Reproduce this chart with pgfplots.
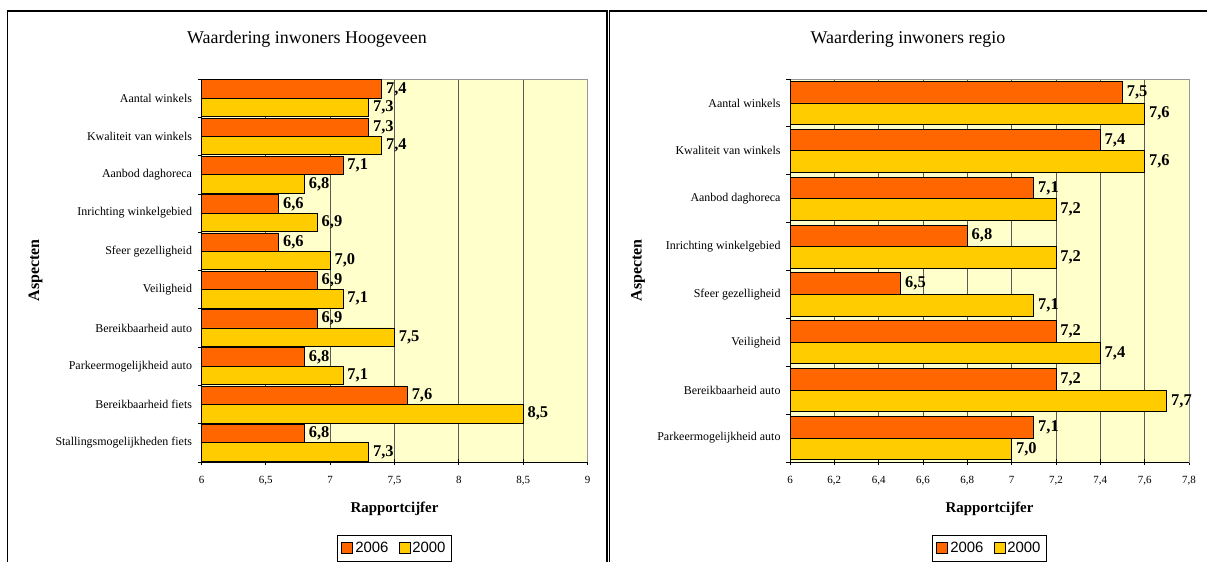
\documentclass[border=0pt]{standalone}
\usepackage{pgfplots}
\usepackage{pgfplotstable}
\pgfplotsset{compat=1.18}
\usepackage{fontspec}
\setmainfont{Liberation Serif}
\newfontfamily\legendfont{Liberation Sans}

\definecolor{bar2006}{RGB}{255,102,0}
\definecolor{bar2000}{RGB}{255,204,0}
\definecolor{plotbg}{RGB}{255,255,204}
\definecolor{gridgray}{RGB}{90,90,90}
\definecolor{edgegray}{RGB}{150,150,150}

% Rapportcijfers per aspect: 2006 and 2000
\pgfplotstableread{
idx v2006 v2000
0 7.4 7.3
1 7.3 7.4
2 7.1 6.8
3 6.6 6.9
4 6.6 7.0
5 6.9 7.1
6 6.9 7.5
7 6.8 7.1
8 7.6 8.5
9 6.8 7.3
}\hoogeveen

\pgfplotstableread{
idx v2006 v2000
0 7.5 7.6
1 7.4 7.6
2 7.1 7.2
3 6.8 7.2
4 6.5 7.1
5 7.2 7.4
6 7.2 7.7
7 7.1 7.0
}\regio

\pgfplotsset{
  rating/.style={
    xbar, scale only axis, clip mode=individual,
    y dir=reverse,
    axis background/.style={fill=plotbg},
    axis line style={edgegray, line width=1bp},
    xmajorgrids, grid style={draw=gridgray, line width=1bp},
    xtick pos=left, ytick pos=left,
    xtick align=center, ytick align=outside,
    major tick length=6bp, minor tick length=4bp,
    tick style={black, line width=0.8bp},
    major y tick style={draw=none},
    point meta=x,
    /pgf/number format/assume math mode=true,
    /pgf/number format/use comma,
    nodes near coords={\pgfmathprintnumber[fixed,fixed zerofill,precision=1,use comma]{\pgfplotspointmeta}},
    nodes near coords style={anchor=west, font=\fontsize{16.5}{18}\selectfont\bfseries, inner sep=0pt, xshift=4bp},
    x tick label style={font=\fontsize{11}{12}\selectfont, yshift=-8bp},
    y tick label style={font=\fontsize{12}{14}\selectfont},
    xlabel={Rapportcijfer}, ylabel={Aspecten},
    xlabel style={font=\fontsize{15}{17}\selectfont\bfseries, at={(axis description cs:0.5,-0.122)}, anchor=center},
    title style={font=\fontsize{18}{20}\selectfont, anchor=center},
    legend style={legend columns=2, draw=black, line width=0.8bp,
      font=\legendfont\fontsize{15}{17}\selectfont,
      inner xsep=4bp, inner ysep=5bp,
      at={(axis description cs:0.5,-0.1906)}, anchor=north,
      /tikz/every even column/.append style={column sep=8bp}},
    legend image code/.code={\draw[#1, draw=black, line width=0.8bp] (0bp,-5.5bp) rectangle (11bp,5.5bp);},
    yticklabels={Aantal winkels, Kwaliteit van winkels, Aanbod daghoreca,
      Inrichting winkelgebied, Sfeer gezelligheid, Veiligheid,
      Bereikbaarheid auto, Parkeermogelijkheid auto, Bereikbaarheid fiets,
      Stallingsmogelijkheden fiets},
  }
}

\begin{document}
\begin{tikzpicture}
\useasboundingbox (0bp,0bp) rectangle (1207bp,562bp);

% Hoogeveen
\begin{axis}[rating,
  at={(394.5bp,291.5bp)}, anchor=center, width=386bp, height=383bp,
  xmin=6, xmax=9, xtick={6,6.5,...,9},
  ymin=-0.5, ymax=9.5, ytick={0,...,9}, minor ytick={-0.5,0.5,...,9.5},
  ylabel style={font=\fontsize{16}{18}\selectfont\bfseries, at={(axis description cs:-0.430,0.5)}, anchor=center},
  title={Waardering inwoners Hoogeveen},
  title style={at={(axis description cs:0.2733,1.088)}},
]
\addplot[fill=bar2006, draw=black, line width=0.8bp, bar width=0.48, bar shift=-0.24] table[x=v2006, y=idx] {\hoogeveen};
\addplot[fill=bar2000, draw=black, line width=0.8bp, bar width=0.48, bar shift=0.24] table[x=v2000, y=idx] {\hoogeveen};
\legend{2006, 2000}
\draw[black, line width=1bp] (rel axis cs:0,1) -- (rel axis cs:0,0) -- (rel axis cs:1,0);
\end{axis}

% regio
\begin{axis}[rating,
  at={(989.5bp,291.5bp)}, anchor=center, width=399bp, height=383bp,
  xmin=6, xmax=7.8, xtick={6,6.2,...,7.8},
  ymin=-0.5, ymax=7.5, ytick={0,...,7}, minor ytick={-0.5,0.5,...,7.5},
  ylabel style={font=\fontsize{16}{18}\selectfont\bfseries, at={(axis description cs:-0.381,0.5)}, anchor=center},
  title={Waardering inwoners regio},
  title style={at={(axis description cs:0.2957,1.088)}},
]
\addplot[fill=bar2006, draw=black, line width=0.8bp, bar width=0.45, bar shift=-0.225] table[x=v2006, y=idx] {\regio};
\addplot[fill=bar2000, draw=black, line width=0.8bp, bar width=0.45, bar shift=0.225] table[x=v2000, y=idx] {\regio};
\legend{2006, 2000}
\draw[black, line width=1bp] (rel axis cs:0,1) -- (rel axis cs:0,0) -- (rel axis cs:1,0);
\end{axis}

% panel frames
\draw[line width=1.4bp] (7.5bp,-20bp) -- (7.5bp,551bp) -- (606.8bp,551bp) -- (606.8bp,-20bp);
\draw[line width=1.4bp] (609.6bp,-20bp) -- (609.6bp,551bp) -- (1230bp,551bp);
\end{tikzpicture}
\end{document}
